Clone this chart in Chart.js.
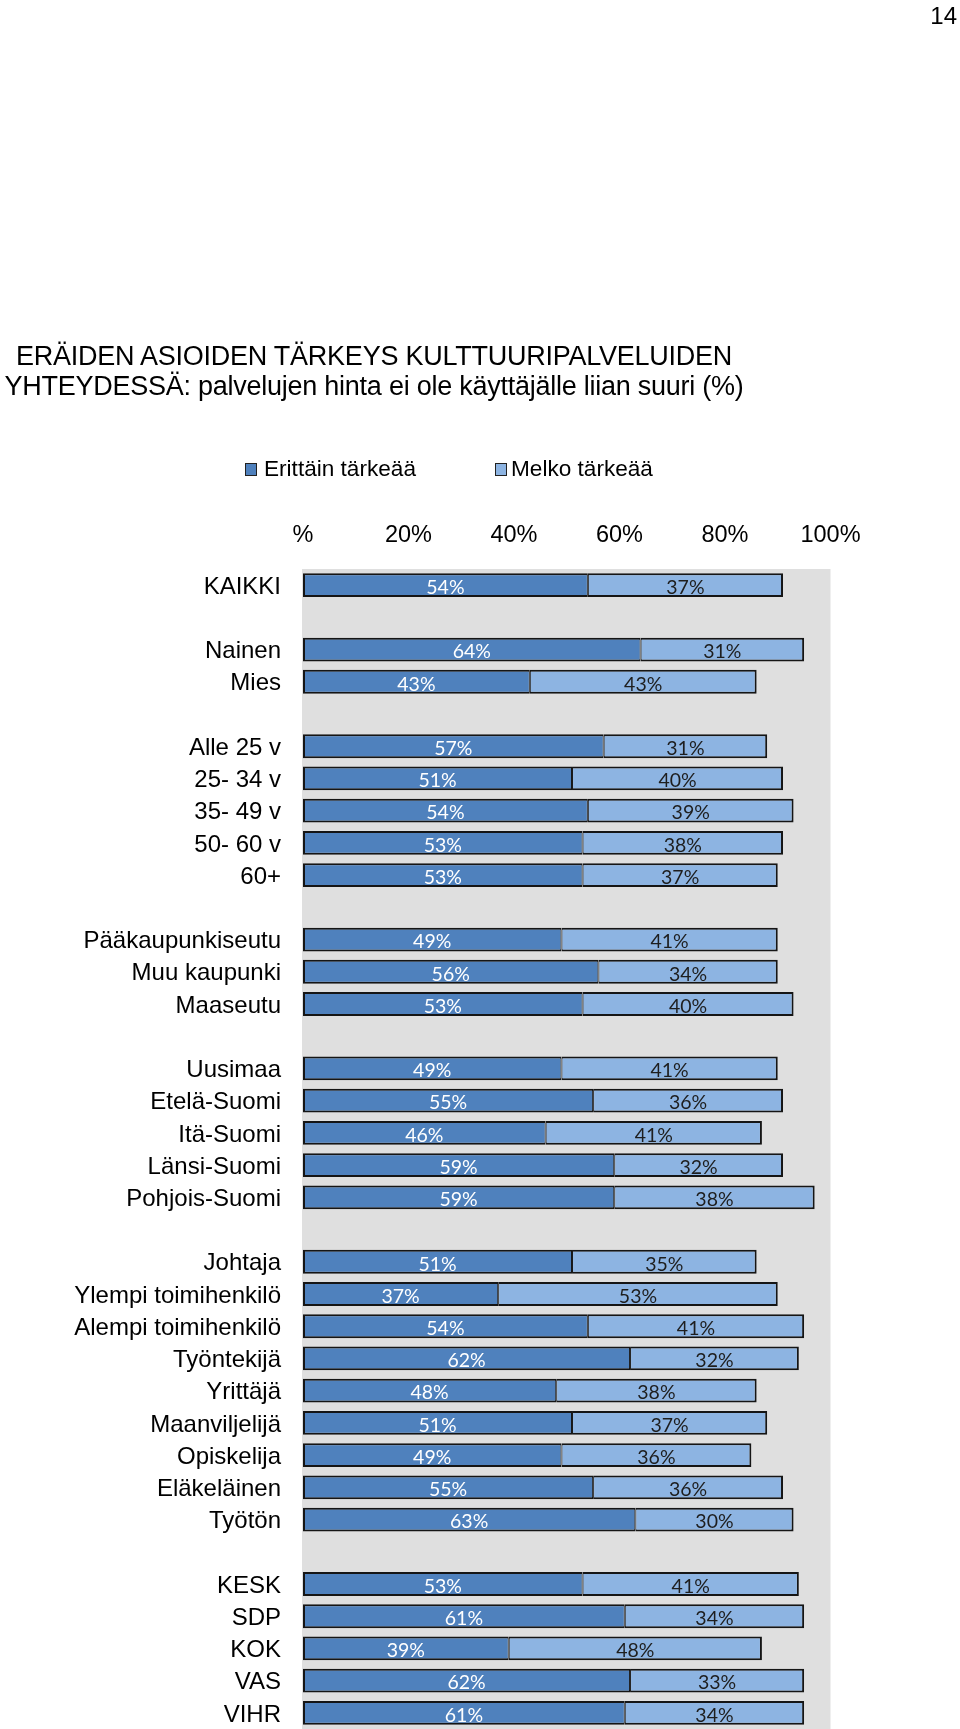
<!DOCTYPE html>
<html>
<head>
<meta charset="utf-8">
<script src="https://cdn.jsdelivr.net/npm/chart.js@4/dist/chart.umd.min.js"></script>
<style>
  html, body { margin: 0; padding: 0; background: #fff; }
  body { width: 960px; height: 1729px; position: relative; overflow: hidden; font-family: "Liberation Sans", Arial, sans-serif; color: #000; }
  #wrap { position: absolute; left: 0; top: 0; width: 960px; height: 1729px; }
  .t { position: absolute; white-space: nowrap; }
  #pageno { right: 3px; top: 1px; font-size: 24px; line-height: 30px; }
  #title { left: 0; width: 748px; top: 341px; text-align: center; font-size: 27px; line-height: 30px; letter-spacing: -0.25px; }
  .lg { position: absolute; top: 454px; font-size: 22.6px; line-height: 30px; }
  .lg .box { position: absolute; left: 0; top: 9px; width: 10px; height: 11px; border: 1px solid #222; }
  .lg .txt { position: absolute; white-space: nowrap; }
</style>
</head>
<body>
<div id="wrap"><canvas id="c" width="960" height="1729"></canvas></div>
<div class="t" id="pageno">14</div>
<div class="t" id="title">ERÄIDEN ASIOIDEN TÄRKEYS KULTTUURIPALVELUIDEN<br>YHTEYDESSÄ: palvelujen hinta ei ole käyttäjälle liian suuri (%)</div>
<div id="legend"></div>
<script>
// ---- data ----
const categories = [
  'KAIKKI', '',
  'Nainen', 'Mies', '',
  'Alle 25 v', '25- 34 v', '35- 49 v', '50- 60 v', '60+', '',
  'Pääkaupunkiseutu', 'Muu kaupunki', 'Maaseutu', '',
  'Uusimaa', 'Etelä-Suomi', 'Itä-Suomi', 'Länsi-Suomi', 'Pohjois-Suomi', '',
  'Johtaja', 'Ylempi toimihenkilö', 'Alempi toimihenkilö', 'Työntekijä', 'Yrittäjä', 'Maanviljelijä', 'Opiskelija', 'Eläkeläinen', 'Työtön', '',
  'KESK', 'SDP', 'KOK', 'VAS', 'VIHR'
];
const erittainTarkeaa = [
  54, null,
  64, 43, null,
  57, 51, 54, 53, 53, null,
  49, 56, 53, null,
  49, 55, 46, 59, 59, null,
  51, 37, 54, 62, 48, 51, 49, 55, 63, null,
  53, 61, 39, 62, 61
];
const melkoTarkeaa = [
  37, null,
  31, 43, null,
  31, 40, 39, 38, 37, null,
  41, 34, 40, null,
  41, 36, 41, 32, 38, null,
  35, 53, 41, 32, 38, 37, 36, 36, 30, null,
  41, 34, 48, 33, 34
];
const seriesNames = ['Erittäin tärkeää', 'Melko tärkeää'];
const tickLabels = ['%', '20%', '40%', '60%', '80%', '100%'];

const colors = ['#4F81BD', '#8DB4E2'];
const labelColors = ['#FFFFFF', '#1E1E1E'];

// ---- legend (HTML) ----
const legendPos = [{box: 245, txt: 264}, {box: 495, txt: 511}];
const legendEl = document.getElementById('legend');
seriesNames.forEach((n, i) => {
  const d = document.createElement('div');
  d.className = 'lg';
  d.style.left = legendPos[i].box + 'px';
  d.innerHTML = '<div class="box" style="background:' + colors[i] + '"></div><div class="txt" style="left:' + (legendPos[i].txt - legendPos[i].box) + 'px">' + n + '</div>';
  legendEl.appendChild(d);
});

// ---- plugins ----
const plotBg = {
  id: 'plotBg',
  beforeDatasetsDraw(chart) {
    const a = chart.chartArea, ctx = chart.ctx;
    ctx.save();
    ctx.fillStyle = '#DFDFDF';
    ctx.fillRect(a.left - 1, a.top, a.right - a.left + 1, a.bottom - a.top);
    ctx.restore();
  }
};
const barLabels = {
  id: 'barLabels',
  afterDatasetsDraw(chart) {
    const ctx = chart.ctx;
    ctx.save();
    ctx.font = '19.5px Lato, "Open Sans", sans-serif';
    ctx.textAlign = 'center';
    ctx.textBaseline = 'middle';
    chart.data.datasets.forEach((ds, di) => {
      const meta = chart.getDatasetMeta(di);
      meta.data.forEach((el, i) => {
        const v = ds.data[i];
        if (v === null || v === undefined) return;
        const p = el.getProps(['x', 'y', 'base'], true);
        ctx.fillStyle = labelColors[di];
        ctx.fillText(v + '%', (p.x + p.base) / 2, p.y + 2.5);
      });
    });
    ctx.restore();
  }
};

const border = [
  {top: 2, bottom: 2, left: 2, right: 1},
  {top: 2, bottom: 2, left: 1, right: 2}
];
const noPad = (s) => { s.paddingTop = 0; s.paddingBottom = 0; s.paddingLeft = 0; s.paddingRight = 0; };

new Chart(document.getElementById('c'), {
  type: 'bar',
  data: {
    labels: categories,
    datasets: [erittainTarkeaa, melkoTarkeaa].map((d, i) => ({
      label: seriesNames[i],
      data: d,
      backgroundColor: colors[i],
      borderColor: '#151515',
      borderWidth: border[i],
      borderSkipped: false,
      categoryPercentage: 1,
      barPercentage: 0.74
    }))
  },
  options: {
    indexAxis: 'y',
    responsive: false,
    animation: false,
    devicePixelRatio: 1,
    layout: { padding: { left: 0, top: 0, right: 129.5, bottom: 0 } },
    plugins: { legend: { display: false }, tooltip: { enabled: false }, title: { display: false } },
    scales: {
      x: {
        position: 'top',
        stacked: true,
        min: 0, max: 100,
        afterFit(s) { s.height = 569; noPad(s); },
        afterBuildTicks(s) { s.ticks = tickLabels.map((t, i) => ({ value: i * 20 })); },
        ticks: {
          padding: 19,
          color: '#000',
          font: { family: '"Liberation Sans", Arial, sans-serif', size: 23.5 },
          maxRotation: 0,
          autoSkip: false,
          callback(v, i) { return tickLabels[i]; }
        },
        grid: { display: false, drawTicks: false },
        border: { display: false }
      },
      y: {
        stacked: true,
        afterFit(s) { s.width = 303; noPad(s); },
        ticks: {
          padding: 22,
          labelOffset: 2,
          color: '#000',
          autoSkip: false,
          font: { family: '"Liberation Sans", Arial, sans-serif', size: 24 }
        },
        grid: { display: false, drawTicks: false },
        border: { display: false }
      }
    }
  },
  plugins: [plotBg, barLabels]
});
</script>
</body>
</html>
